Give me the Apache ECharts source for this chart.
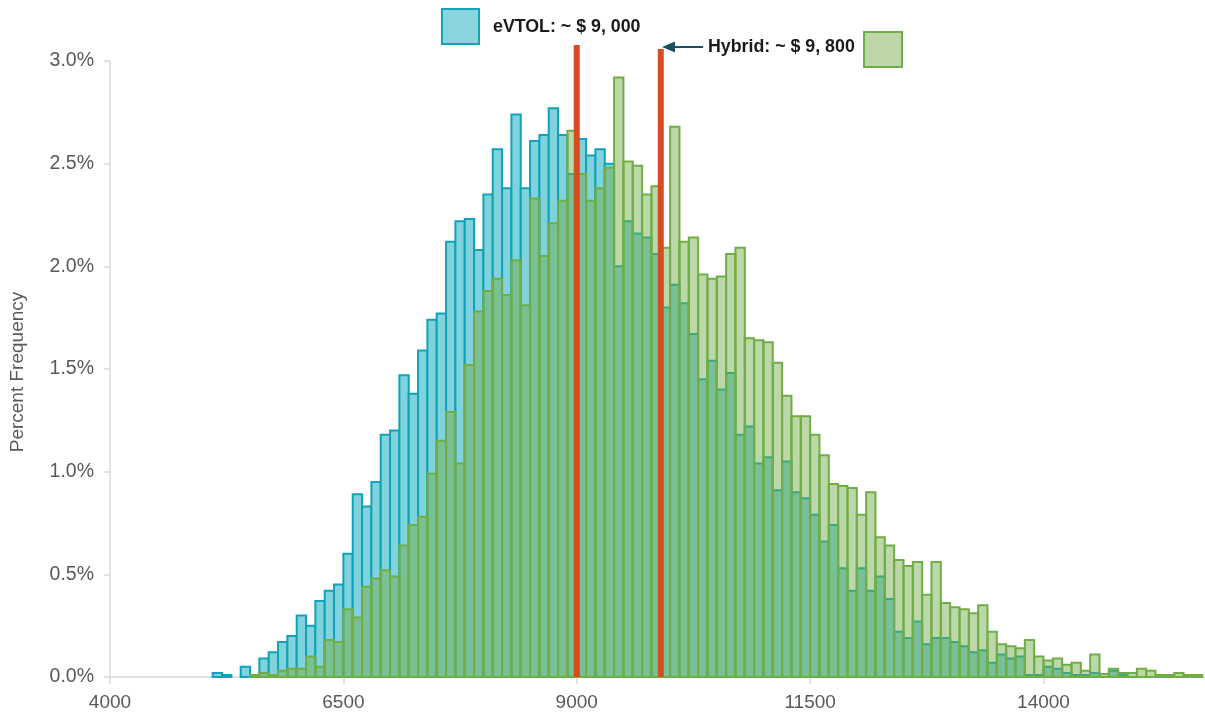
<!DOCTYPE html>
<html>
<head>
<meta charset="utf-8">
<script src="https://cdn.jsdelivr.net/npm/echarts@6/dist/echarts.min.js"></script>
<style>html,body{margin:0;padding:0;background:#fff}#c{width:1205px;height:719px}</style>
</head>
<body>
<div id="c"></div>
<script>
// Bin start values (cost, bin width 100)
const bins = [5100,5200,5300,5400,5500,5600,5700,5800,5900,6000,6100,6200,6300,6400,6500,6600,6700,6800,6900,7000,
7100,7200,7300,7400,7500,7600,7700,7800,7900,8000,8100,8200,8300,8400,8500,8600,8700,8800,8900,9000,
9100,9200,9300,9400,9500,9600,9700,9800,9900,10000,10100,10200,10300,10400,10500,10600,10700,10800,10900,11000,
11100,11200,11300,11400,11500,11600,11700,11800,11900,12000,12100,12200,12300,12400,12500,12600,12700,12800,12900,13000,
13100,13200,13300,13400,13500,13600,13700,13800,13900,14000,14100,14200,14300,14400,14500,14600,14700,14800,14900,15000,
15100,15200,15300,15400,15500,15600];
const binWidth = 100;

// Percent frequency, eVTOL
const evtol = [0.02,0.01,0,0.05,0,0.09,0.12,0.17,0.20,0.30,0.25,0.37,0.42,0.45,0.60,0.89,0.83,0.95,1.18,1.20,
1.47,1.38,1.59,1.74,1.77,2.12,2.22,2.23,2.08,2.35,2.57,2.38,2.74,2.38,2.61,2.64,2.77,2.64,2.45,2.62,
2.54,2.57,2.50,2.00,2.22,2.16,2.14,2.06,1.80,1.91,1.82,1.67,1.45,1.54,1.40,1.48,1.18,1.22,1.04,1.07,
0.91,1.05,0.90,0.87,0.79,0.66,0.74,0.53,0.42,0.53,0.42,0.49,0.38,0.22,0.19,0.27,0.16,0.19,0.19,0.17,
0.15,0.12,0.13,0.07,0.11,0.09,0.10,0.01,0.01,0.05,0.04,0.02,0.01,0.01,0.02,0,0.03,0.01,0,0,
0,0,0,0,0,0];

// Percent frequency, Hybrid
const hybrid = [0,0,0,0,0.01,0.02,0.01,0.03,0.04,0.04,0.10,0.05,0.18,0.17,0.33,0.29,0.44,0.48,0.52,0.49,
0.64,0.74,0.78,0.99,1.15,1.29,1.04,1.52,1.78,1.88,1.94,1.86,2.03,1.81,2.33,2.05,2.21,2.32,2.66,2.45,
2.32,2.38,2.48,2.92,2.51,2.49,2.35,2.39,2.09,2.68,2.12,2.14,1.96,1.94,1.95,2.06,2.09,1.65,1.64,1.63,
1.53,1.37,1.27,1.27,1.18,1.08,0.94,0.93,0.92,0.79,0.90,0.68,0.64,0.57,0.54,0.56,0.40,0.56,0.36,0.34,
0.33,0.31,0.35,0.22,0.16,0.15,0.14,0.18,0.10,0.08,0.09,0.06,0.07,0.03,0.11,0.015,0.04,0.02,0.02,0.04,
0.03,0.01,0.01,0.02,0.01,0.01];

// Mean marker lines: [x value, top of line in %]
const meanLines = [[9000, 3.078],[9900, 3.058]];

const xTicks = [4000, 6500, 9000, 11500, 14000];

const FONT = "'Liberation Sans', Arial, sans-serif";

function histSeries(name, values, fill, stroke) {
  return {
    type: 'custom',
    name: name,
    data: bins.map((b, i) => [b, values[i]]).filter(d => d[1] > 0),
    encode: { x: 0, y: 1 },
    renderItem: function (params, api) {
      const x0 = api.value(0), v = api.value(1);
      const p0 = api.coord([x0, v]);
      const p1 = api.coord([x0 + binWidth, 0]);
      return {
        type: 'rect',
        shape: { x: p0[0], y: p0[1], width: p1[0] - p0[0], height: p1[1] - p0[1] },
        style: { fill: fill, stroke: stroke, lineWidth: 2 }
      };
    }
  };
}

const chart = echarts.init(document.getElementById('c'), null, { renderer: 'canvas' });
chart.setOption({
  animation: false,
  backgroundColor: '#ffffff',
  grid: { left: 110, right: 0, top: 61, bottom: 42, containLabel: false },
  xAxis: {
    type: 'value', min: 4000, max: 15730, interval: 2500,
    axisLine: { show: true, lineStyle: { color: '#d9d9d9', width: 1.5 } },
    axisTick: { show: true, length: 7, lineStyle: { color: '#d9d9d9', width: 1.5 } },
    axisLabel: {
      color: '#595959', fontSize: 19, fontFamily: FONT, margin: 16,
      showMaxLabel: false,
      formatter: v => xTicks.indexOf(v) >= 0 ? String(v) : ''
    },
    splitLine: { show: false }
  },
  yAxis: {
    type: 'value', min: 0, max: 3, interval: 0.5,
    axisLine: { show: true, lineStyle: { color: '#d9d9d9', width: 1.5 } },
    axisTick: { show: true, length: 6, lineStyle: { color: '#d9d9d9', width: 1.5 } },
    axisLabel: { color: '#595959', fontSize: 19.5, fontFamily: FONT, margin: 16,
      formatter: v => v.toFixed(1) + '%' },
    splitLine: { show: false }
  },
  series: [
    histSeries('eVTOL', evtol, '#80d2dc', '#0ea3b8'),
    histSeries('Hybrid', hybrid, 'rgba(112,173,71,0.47)', '#70ad47'),
    {
      type: 'custom', name: 'mean', clip: false,
      data: meanLines,
      encode: { x: 0, y: 1 },
      renderItem: function (params, api) {
        const a = api.coord([api.value(0), 0]);
        const b = api.coord([api.value(0), api.value(1)]);
        return { type: 'line', shape: { x1: a[0], y1: a[1], x2: b[0], y2: b[1] },
          style: { stroke: '#d64b1f', lineWidth: 6 } };
      }
    }
  ],
  graphic: [
    { type: 'text', x: 18, y: 372, rotation: Math.PI / 2,
      style: { text: 'Percent Frequency', fill: '#595959', font: "19px " + FONT, textAlign: 'center', textVerticalAlign: 'middle' } },
    { type: 'rect', shape: { x: 442, y: 9, width: 37, height: 35 },
      style: { fill: '#8ad6de', stroke: '#15a3b8', lineWidth: 2 } },
    { type: 'text', x: 493, y: 27,
      style: { text: 'eVTOL: ~ $ 9, 000', fill: '#1a1a1a', font: "bold 17.8px " + FONT, textVerticalAlign: 'middle' } },
    { type: 'text', x: 708, y: 47,
      style: { text: 'Hybrid: ~ $ 9, 800', fill: '#1a1a1a', font: "bold 17.8px " + FONT, textVerticalAlign: 'middle' } },
    { type: 'rect', shape: { x: 864, y: 32, width: 38, height: 35 },
      style: { fill: '#bdd7a8', stroke: '#70ad47', lineWidth: 2 } },
    { type: 'line', shape: { x1: 703, y1: 47, x2: 670, y2: 47 },
      style: { stroke: '#1b4f5c', lineWidth: 2 } },
    { type: 'polygon', shape: { points: [[662, 47], [675, 41.5], [675, 52.5]] },
      style: { fill: '#1b4f5c' } }
  ]
});
</script>
</body>
</html>
